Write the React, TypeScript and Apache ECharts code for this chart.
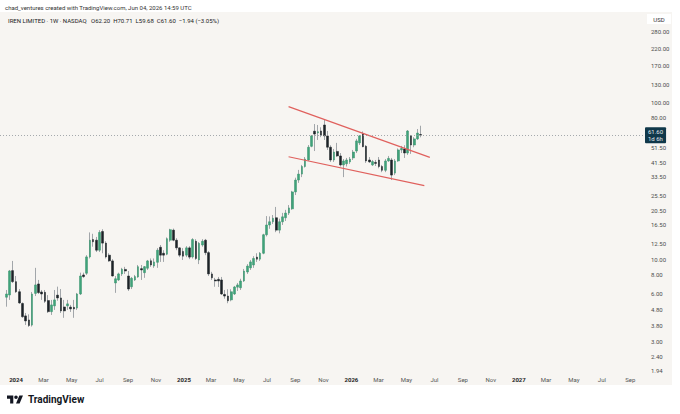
import React, { useEffect, useRef } from "react";
import * as echarts from "echarts";

// ---- data (weekly candles) ----
const WEEK_START = "2023-12-11";
const OPEN = [
  5.72, 5.91, 8.45, 7.19, 6.2, 5.22, 4.35, 4.1, 3.8, 6.05,
  6.95, 6.18, 6.15, 5.45, 4.63, 5.04, 5.9, 5.66, 4.96, 5.04,
  4.95, 4.93, 4.88, 6.0, 7.93, 8.13, 10.33, 13.33, 13.2, 11.4,
  15.0, 12.65, 10.6, 9.74, 7.05, 7.37, 8.05, 8.6, 7.81, 6.67,
  7.37, 7.7, 8.7, 8.2, 8.75, 9.76, 9.04, 9.55, 11.9, 10.9,
  10.75, 13.2, 15.3, 13.2, 11.8, 11.2, 10.6, 11.8, 10.33, 13.0,
  9.88, 12.3, 13.2, 11.0, 8.05, 7.37, 7.44, 7.37, 5.96, 5.82,
  5.5, 6.0, 6.63, 6.57, 7.26, 8.28, 8.8, 9.18, 10.3, 10.0,
  10.9, 14.3, 16.5, 17.3, 18.35, 15.3, 17.3, 18.35, 19.65, 20.9,
  26.8, 31.9, 34.8, 38.9, 42.8, 52.3, 65.3, 63.6, 65.5, 71.5,
  60.9, 51.6, 42.8, 48.5, 45.4, 39.8, 40.5, 41.6, 44.1, 48.8,
  55.0, 62.6, 52.3, 42.8, 39.8, 41.3, 42.8, 38.9, 36.8, 42.2,
  42.8, 35.3, 42.2, 49.6, 50.3, 47.4, 60.9, 53.3, 58.3, 62.2,
];
const HIGH = [
  6.36, 8.53, 9.74, 7.81, 6.45, 5.3, 4.54, 4.45, 6.18, 8.8,
  7.37, 6.36, 6.36, 5.9, 5.5, 6.36, 6.68, 6.45, 5.5, 5.5,
  5.11, 5.5, 6.09, 8.2, 8.2, 10.6, 14.8, 14.5, 13.85, 15.3,
  15.5, 13.0, 10.9, 10.0, 7.8, 8.2, 8.8, 8.93, 8.4, 7.7,
  7.93, 9.18, 9.18, 9.04, 9.88, 10.1, 10.1, 11.75, 12.3, 11.4,
  13.75, 15.6, 15.65, 13.6, 11.9, 11.75, 12.1, 12.1, 13.6, 13.4,
  12.85, 13.4, 13.45, 11.25, 8.3, 7.6, 7.7, 7.7, 6.36, 6.43,
  6.43, 6.75, 7.05, 7.5, 8.66, 9.3, 9.88, 10.45, 10.9, 11.1,
  14.5, 18.8, 18.7, 19.1, 21.5, 18.1, 19.7, 20.6, 22.1, 27.2,
  33.0, 37.0, 39.8, 44.7, 53.3, 61.7, 72.5, 71.5, 69.1, 77.0,
  65.5, 53.1, 50.3, 55.0, 47.4, 43.4, 44.1, 44.7, 49.6, 58.3,
  61.7, 65.0, 53.3, 44.7, 42.8, 42.8, 44.7, 39.8, 43.4, 45.4,
  44.1, 43.4, 50.7, 52.6, 53.1, 66.4, 61.7, 59.8, 67.4, 70.71,
];
const LOW = [
  4.98, 5.5, 7.05, 6.09, 5.19, 4.23, 3.81, 3.7, 3.72, 5.82,
  6.0, 5.5, 5.26, 4.54, 4.41, 4.75, 5.43, 4.54, 4.23, 4.75,
  4.61, 4.23, 4.75, 5.91, 7.6, 7.93, 10.1, 12.0, 11.1, 11.1,
  10.9, 10.1, 9.6, 7.74, 6.1, 7.26, 7.81, 8.05, 6.27, 6.45,
  7.26, 7.6, 7.37, 7.6, 8.53, 8.93, 8.8, 8.8, 9.6, 9.6,
  10.6, 12.9, 13.0, 11.4, 10.3, 9.88, 10.3, 10.0, 10.1, 9.88,
  9.3, 12.0, 10.6, 7.81, 7.37, 6.67, 6.65, 5.91, 5.6, 5.24,
  5.39, 5.91, 6.27, 6.36, 7.15, 8.05, 8.53, 8.8, 9.6, 9.74,
  10.75, 13.95, 15.6, 16.75, 14.85, 14.6, 16.5, 17.5, 19.1, 20.6,
  25.6, 30.6, 33.3, 38.3, 42.2, 51.6, 48.8, 57.4, 59.8, 57.4,
  49.6, 41.6, 41.6, 44.7, 38.9, 33.3, 38.9, 40.4, 42.8, 47.4,
  53.3, 51.6, 41.0, 41.0, 39.2, 39.2, 37.9, 35.8, 35.8, 41.6,
  31.9, 34.3, 41.6, 47.4, 44.1, 46.1, 46.8, 51.6, 57.4, 59.68,
];
const CLOSE = [
  6.0, 8.41, 7.19, 6.2, 5.26, 4.3, 4.04, 3.78, 6.0, 6.85,
  6.12, 6.0, 5.39, 4.63, 5.11, 5.5, 5.66, 4.68, 4.68, 5.19,
  4.82, 4.82, 6.0, 7.81, 7.74, 10.33, 13.2, 12.9, 11.4, 14.8,
  12.65, 10.33, 9.74, 7.81, 7.5, 8.05, 8.63, 8.4, 6.45, 7.55,
  7.74, 8.95, 8.53, 8.95, 9.74, 9.18, 9.6, 11.4, 10.6, 10.6,
  13.5, 15.4, 13.2, 11.8, 10.6, 10.45, 11.8, 10.3, 13.33, 10.1,
  12.6, 13.0, 11.0, 8.05, 7.6, 7.26, 7.26, 6.0, 5.82, 5.43,
  6.2, 6.65, 6.85, 7.26, 8.4, 9.04, 9.6, 10.1, 10.0, 10.9,
  14.3, 16.5, 17.3, 18.2, 15.3, 17.3, 18.6, 19.65, 21.2, 26.8,
  31.9, 34.8, 38.9, 43.4, 51.6, 60.9, 62.6, 64.8, 61.7, 60.9,
  51.6, 42.8, 48.1, 45.4, 39.8, 42.2, 42.8, 43.4, 48.1, 56.6,
  60.9, 52.0, 42.2, 41.6, 41.8, 40.7, 38.9, 36.8, 42.2, 43.8,
  34.3, 42.2, 49.6, 50.7, 47.4, 65.5, 53.3, 58.3, 63.54, 61.6,
];

const PRICE_TICKS = [280, 220, 170, 130, 100, 80, 51.5, 41.5, 33.5, 25.5, 20.5, 16.5, 12.5, 10, 8, 6, 4.8, 3.8, 3.0, 2.4, 1.94];
const TIME_TICKS = [
  "2024-01-01", "2024-03-01", "2024-05-01", "2024-07-01", "2024-09-01", "2024-11-01",
  "2025-01-01", "2025-03-01", "2025-05-01", "2025-07-01", "2025-09-01", "2025-11-01",
  "2026-01-01", "2026-03-01", "2026-05-01", "2026-07-01", "2026-09-01", "2026-11-01",
  "2027-01-01", "2027-03-01", "2027-05-01", "2027-07-01", "2027-09-01",
];
const MONTH_NAMES = ["Jan", "Feb", "Mar", "Apr", "May", "Jun", "Jul", "Aug", "Sep", "Oct", "Nov", "Dec"];
const PRICE_RANGE = [1.911, 374.8];
const TIME_RANGE = ["2023-11-27", "2027-10-03"];
const LAST_PRICE = 61.6;
const LAST_LABEL = ["61.60", "1d 6h"];
const UPPER_LINE = [["2025-08-17", 93.5], ["2026-06-21", 44.5]];
const LOWER_LINE = [["2025-08-17", 44.9], ["2026-06-09", 29.4]];
const HEADER = "chad_ventures created with TradingView.com, Jun 04, 2026 14:59 UTC";
const LEGEND = "IREN LIMITED · 1W · NASDAQ   O62.20  H70.71  L59.68  C61.60  −1.94 (−3.05%)";

// ---- style ----
const FONT = 'Roboto, "Noto Sans", sans-serif';
const UP = "#3fa37a";
const UP_BORDER = "#36936c";
const DOWN = "#1c2227";
const WICK = "#8b9297";
const TREND = "#e0605d";
const PANEL = "#f7f5f2";

const TV_LOGO =
  "M14 22H7V11H0V4h14v18z M28 22h-8l7.5-18h8L28 22z M24 8a4 4 0 1 1-8 0a4 4 0 1 1 8 0z";
echarts.graphic.registerShape("tvlogo", echarts.graphic.extendPath(TV_LOGO, {}));

const toTs = (s: string) => Date.parse(s + "T00:00:00Z");
const ln = Math.log;

export default function App() {
  const ref = useRef<HTMLDivElement>(null);

  useEffect(() => {
    if (!ref.current) return;
    document.body.style.margin = "0";
    const chart = echarts.init(ref.current, null, { renderer: "svg" });

    const start = toTs(WEEK_START);
    const dates = OPEN.map((_, i) => start + i * 7 * 86400000);
    const wickData = OPEN.map((o, i) => [dates[i], ln(o), ln(CLOSE[i]), ln(LOW[i]), ln(HIGH[i])]);
    const bodyData = OPEN.map((o, i) => [
      dates[i],
      ln(o),
      ln(CLOSE[i]),
      ln(Math.min(o, CLOSE[i])),
      ln(Math.max(o, CLOSE[i])),
    ]);

    const option: any = {
      animation: false,
      backgroundColor: "#ffffff",
      textStyle: { fontFamily: FONT },
      grid: { left: 0, right: 35, top: 12, bottom: 42, containLabel: false },
      xAxis: {
        type: "value",
        min: toTs(TIME_RANGE[0]),
        max: toTs(TIME_RANGE[1]),
        axisLine: { show: false },
        axisTick: { show: false },
        splitLine: { show: false },
        axisLabel: {
          customValues: TIME_TICKS.map(toTs),
          formatter: (v: number) => {
            const d = new Date(v);
            const m = d.getUTCMonth();
            return m === 0 ? `{y|${d.getUTCFullYear()}}` : MONTH_NAMES[m];
          },
          rich: { y: { fontWeight: "bold", fontSize: 6, color: "#1f1f1f", fontFamily: FONT } },
          fontSize: 6,
          color: "#555555",
          margin: 4,
          hideOverlap: false,
        },
      },
      yAxis: {
        type: "value",
        position: "right",
        min: ln(PRICE_RANGE[0]),
        max: ln(PRICE_RANGE[1]),
        axisLine: { show: false },
        axisTick: { show: false },
        splitLine: { show: false },
        axisLabel: {
          customValues: PRICE_TICKS.map(ln),
          formatter: (v: number) => Math.exp(v).toFixed(2),
          fontSize: 6,
          color: "#4d4d4d",
          margin: 6,
          align: "left",
        },
      },
      series: [
        {
          type: "candlestick",
          name: "wick",
          silent: true,
          barWidth: 0.4,
          data: wickData,
          itemStyle: {
            color: WICK,
            color0: WICK,
            borderColor: WICK,
            borderColor0: WICK,
            borderWidth: 0.8,
          },
          z: 2,
        },
        {
          type: "candlestick",
          name: "IREN",
          silent: true,
          barWidth: 2.2,
          data: bodyData,
          itemStyle: {
            color: UP,
            color0: DOWN,
            borderColor: UP_BORDER,
            borderColor0: DOWN,
            borderWidth: 0.5,
          },
          z: 3,
          markLine: {
            silent: true,
            symbol: ["none", "none"],
            animation: false,
            label: { show: false },
            lineStyle: { color: TREND, width: 1.2, type: "solid" },
            data: [
              [
                { coord: [toTs(UPPER_LINE[0][0] as string), ln(UPPER_LINE[0][1] as number)] },
                { coord: [toTs(UPPER_LINE[1][0] as string), ln(UPPER_LINE[1][1] as number)] },
              ],
              [
                { coord: [toTs(LOWER_LINE[0][0] as string), ln(LOWER_LINE[0][1] as number)] },
                { coord: [toTs(LOWER_LINE[1][0] as string), ln(LOWER_LINE[1][1] as number)] },
              ],
              {
                yAxis: ln(LAST_PRICE),
                lineStyle: { type: [1, 2], color: "#8f959a", width: 0.8 },
                label: {
                  show: true,
                  position: "end",
                  distance: 0,
                  formatter: LAST_LABEL.join("\n"),
                  backgroundColor: "#10384a",
                  color: "#e3eaee",
                  fontSize: 6,
                  lineHeight: 7,
                  padding: [1, 3, 1, 3],
                  borderRadius: 1,
                  fontFamily: FONT,
                },
              },
            ],
          },
        },
      ],
      graphic: [
        {
          type: "rect",
          z: -10,
          shape: { x: 0, y: 12, width: 672, height: 373 },
          style: { fill: PANEL },
          silent: true,
        },
        {
          type: "text",
          x: 5,
          y: 7,
          style: { text: HEADER, fill: "#333333", font: `6px ${FONT}`, textVerticalAlign: "middle" },
          silent: true,
        },
        {
          type: "text",
          x: 8,
          y: 20.5,
          style: { text: LEGEND, fill: "#222222", font: `6px ${FONT}`, textVerticalAlign: "middle" },
          silent: true,
        },
        {
          type: "rect",
          shape: { x: 647, y: 14, width: 24, height: 10 },
          style: { fill: "#ffffff" },
          silent: true,
        },
        {
          type: "text",
          x: 659,
          y: 19,
          style: {
            text: "USD",
            fill: "#333333",
            font: `6px ${FONT}`,
            textAlign: "center",
            textVerticalAlign: "middle",
          },
          silent: true,
        },
        {
          type: "tvlogo",
          x: 7,
          y: 393.7,
          scaleX: 0.45,
          scaleY: 0.45,
          style: { fill: "#131722" },
          silent: true,
        },
        {
          type: "text",
          x: 28,
          y: 399.5,
          style: {
            text: "TradingView",
            fill: "#131722",
            font: `bold 10px ${FONT}`,
            textVerticalAlign: "middle",
          },
          silent: true,
        },
      ],
    };

    chart.setOption(option);
    return () => chart.dispose();
  }, []);

  return (
    <div
      ref={ref}
      style={{ position: "fixed", left: 0, top: 0, width: 680, height: 414 }}
    />
  );
}
